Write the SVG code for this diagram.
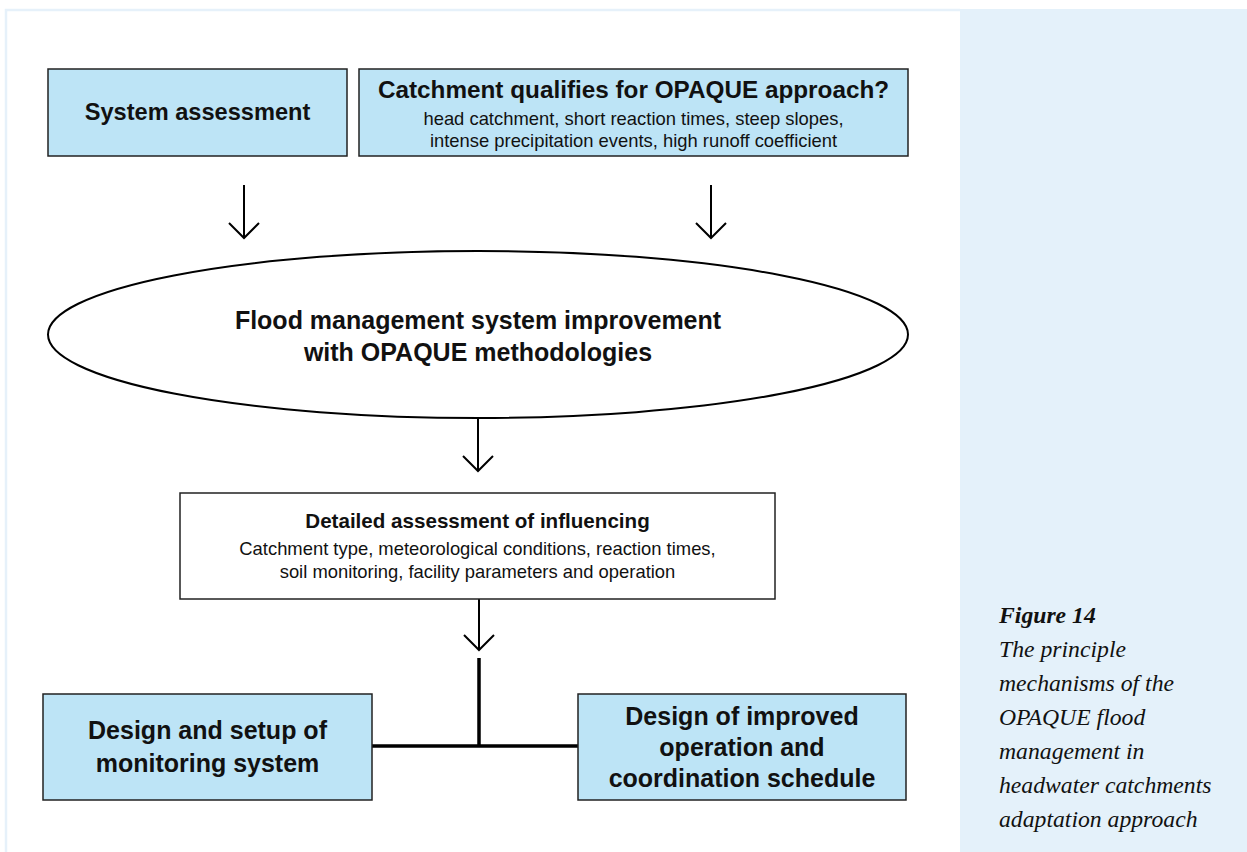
<svg xmlns="http://www.w3.org/2000/svg" width="1247" height="852" viewBox="0 0 1247 852">
<style>
.box{fill:#bde4f6;stroke:#222;stroke-width:1.5}
.wbox{fill:#fff;stroke:#222;stroke-width:1.5}
.t{font-family:"Liberation Sans",Arial,sans-serif;font-weight:bold;font-size:24.5px;fill:#111;text-anchor:middle}
.s{font-family:"Liberation Sans",Arial,sans-serif;font-size:18.4px;fill:#111;text-anchor:middle}
.cap{font-family:"Liberation Serif","Times New Roman",serif;font-style:italic;font-size:23.7px;fill:#111}
.ln{stroke:#000;stroke-width:2;fill:none}
.thick{stroke:#000;stroke-width:3.5;fill:none}
</style>
<rect x="0" y="0" width="1247" height="852" fill="#fff"/>
<path d="M6 852 V10 H960" fill="none" stroke="#e6f1fa" stroke-width="2.5"/>
<rect x="960" y="9" width="287" height="843" fill="#e4f1fa"/>

<g id="connectors">
<path class="ln" d="M244 185 V238 M229 223 L244 238 L259 223"/>
<path class="ln" d="M711 185 V238 M696 223 L711 238 L726 223"/>
<path class="ln" d="M478 418 V471 M463 456 L478 471 L493 456"/>
<path class="ln" d="M479 599 V650 M464 635 L479 650 L494 635"/>
<path class="thick" d="M479 658 V746 M372 746 H578"/>
</g>

<g id="system-assessment">
<rect class="box" x="48" y="69" width="299" height="87"/>
<text class="t" x="197.5" y="120" style="font-size:23.6px">System assessment</text>
</g>

<g id="catchment-qualifies">
<rect class="box" x="359" y="69" width="549" height="87"/>
<text class="t" x="633.5" y="98" style="font-size:24.3px">Catchment qualifies for OPAQUE approach?</text>
<text class="s" x="633.5" y="125">head catchment, short reaction times, steep slopes,</text>
<text class="s" x="633.5" y="147">intense precipitation events, high runoff coefficient</text>
</g>

<g id="flood-management">
<ellipse cx="478" cy="334.5" rx="430" ry="83.5" fill="#fff" stroke="#000" stroke-width="2"/>
<text class="t" x="478" y="329" style="font-size:25px">Flood management system improvement</text>
<text class="t" x="478" y="361" style="font-size:25px">with OPAQUE methodologies</text>
</g>

<g id="detailed-assessment">
<rect class="wbox" x="180" y="493" width="595" height="106"/>
<text class="t" x="477.5" y="528" style="font-size:20.6px">Detailed assessment of influencing</text>
<text class="s" x="477.5" y="555">Catchment type, meteorological conditions, reaction times,</text>
<text class="s" x="477.5" y="578">soil monitoring, facility parameters and operation</text>
</g>

<g id="monitoring-system">
<rect class="box" x="43" y="694" width="329" height="106"/>
<text class="t" x="207.5" y="739" style="font-size:25px">Design and setup of</text>
<text class="t" x="207.5" y="772" style="font-size:25px">monitoring system</text>
</g>

<g id="operation-schedule">
<rect class="box" x="578" y="694" width="328" height="106"/>
<text class="t" x="742" y="725" style="font-size:25px">Design of improved</text>
<text class="t" x="742" y="756" style="font-size:25px">operation and</text>
<text class="t" x="742" y="787" style="font-size:25px">coordination schedule</text>
</g>

<g id="caption">
<text class="cap" x="999" y="623" font-weight="bold">Figure 14</text>
<text class="cap" x="999" y="657">The principle</text>
<text class="cap" x="999" y="691">mechanisms of the</text>
<text class="cap" x="999" y="725">OPAQUE flood</text>
<text class="cap" x="999" y="759">management in</text>
<text class="cap" x="999" y="793">headwater catchments</text>
<text class="cap" x="999" y="827">adaptation approach</text>
</g>
</svg>
